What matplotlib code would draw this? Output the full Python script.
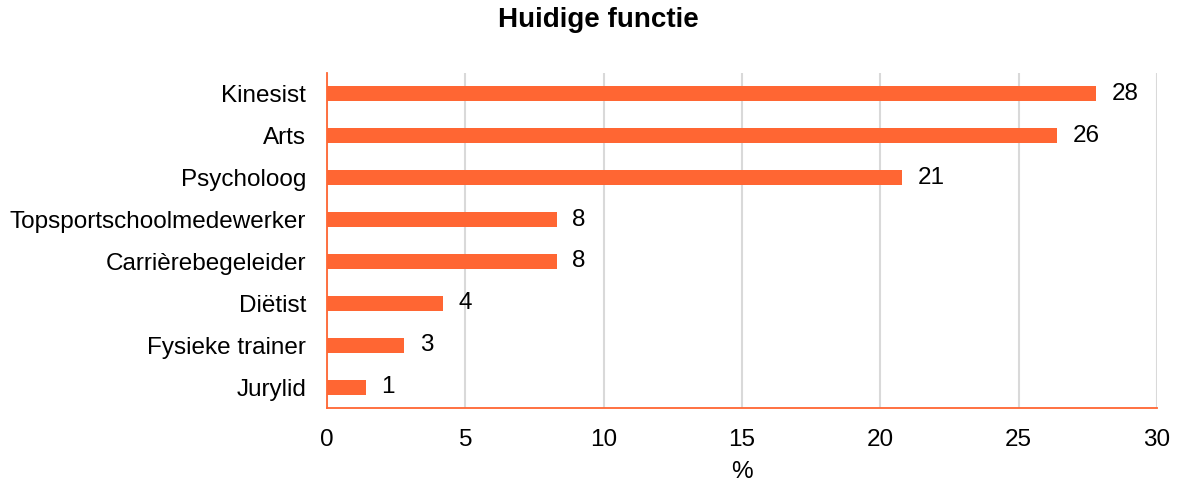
import matplotlib.pyplot as plt

# data (percentages, n = 72)
categories = ["Kinesist", "Arts", "Psycholoog", "Topsportschoolmedewerker",
              "Carrièrebegeleider", "Diëtist", "Fysieke trainer", "Jurylid"]
values = [27.8, 26.4, 20.8, 8.3, 8.3, 4.2, 2.8, 1.4]
labels = ["28", "26", "21", "8", "8", "4", "3", "1"]

plt.rcParams["font.family"] = ["Liberation Sans", "DejaVu Sans"]

orange = "#FF6633"

fig = plt.figure(figsize=(11.78, 4.83), dpi=100)
ax = fig.add_axes([0.2776, 0.1553, 0.7046, 0.6936])

pos = list(range(len(categories)))
ax.barh(pos, values, height=0.36, color=orange, zorder=3)
for p, v, t in zip(pos, values, labels):
    ax.text(v + 0.55, p, t, va="center", ha="left", fontsize=17.5)

ax.set_ylim(len(categories) - 0.5, -0.5)
ax.set_yticks(pos)
ax.set_yticklabels(categories, fontsize=17.5)
ax.set_xlim(0, 30)
ax.set_xticks([0, 5, 10, 15, 20, 25, 30])
ax.tick_params(axis="x", labelsize=17.5, length=0, pad=15)
ax.tick_params(axis="y", length=0, pad=15)
ax.grid(axis="x", color="#d9d9d9", linewidth=1.5, zorder=0)

for s in ["top", "right"]:
    ax.spines[s].set_visible(False)
ax.spines["left"].set_color(orange)
ax.spines["bottom"].set_color(orange)
ax.spines["left"].set_linewidth(1.3)
ax.spines["bottom"].set_linewidth(1.3)
ax.spines["left"].set_zorder(4)

ax.set_xlabel("%", fontsize=17.5, labelpad=7)
fig.suptitle("Huidige functie", x=0.508, y=0.985, fontsize=20, fontweight="bold")

plt.savefig("out.png", dpi=100)
